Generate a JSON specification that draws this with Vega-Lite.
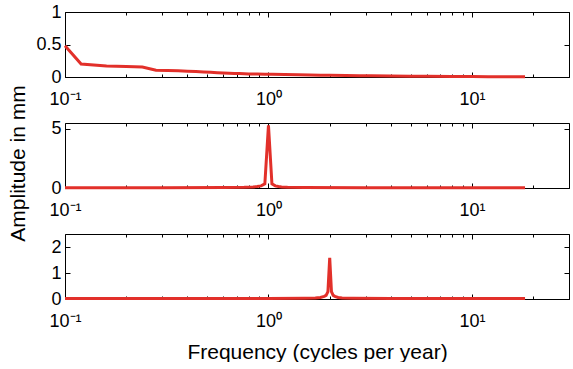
{
  "$schema": "https://vega.github.io/schema/vega-lite/v6.json",
  "padding": {"left": 6, "top": 3, "right": 0, "bottom": 0},
  "config": {
    "font": "Liberation Sans",
    "view": {"stroke": null},
    "axis": {
      "domainColor": "black", "domainWidth": 1, "tickColor": "black", "tickWidth": 1,
      "labelColor": "black", "labelFontSize": 18, "titleFontSize": 21, "titleFontWeight": "normal",
      "titleColor": "black", "grid": false, "labelFlush": false, "labelOverlap": false
    }
  },
  "datasets": {
    "p1": [
      {"f": 0.1, "a": 0.48}, {"f": 0.12, "a": 0.2}, {"f": 0.16, "a": 0.168}, {"f": 0.2, "a": 0.162},
      {"f": 0.24, "a": 0.153}, {"f": 0.28, "a": 0.105}, {"f": 0.32, "a": 0.1}, {"f": 0.36, "a": 0.097},
      {"f": 0.4, "a": 0.09}, {"f": 0.44, "a": 0.084}, {"f": 0.48, "a": 0.078}, {"f": 0.52, "a": 0.072},
      {"f": 0.56, "a": 0.066}, {"f": 0.6, "a": 0.062}, {"f": 0.64, "a": 0.058}, {"f": 0.68, "a": 0.055},
      {"f": 0.72, "a": 0.052}, {"f": 0.76, "a": 0.05}, {"f": 0.8, "a": 0.048}, {"f": 0.88, "a": 0.045},
      {"f": 0.96, "a": 0.043}, {"f": 1.04, "a": 0.041}, {"f": 1.2, "a": 0.037}, {"f": 1.4, "a": 0.033},
      {"f": 1.6, "a": 0.03}, {"f": 1.8, "a": 0.028}, {"f": 2.0, "a": 0.026}, {"f": 2.4, "a": 0.023},
      {"f": 2.8, "a": 0.02}, {"f": 3.2, "a": 0.018}, {"f": 4.0, "a": 0.015}, {"f": 5.0, "a": 0.012},
      {"f": 6.0, "a": 0.01}, {"f": 8.0, "a": 0.008}, {"f": 10.0, "a": 0.006}, {"f": 12.0, "a": 0.005},
      {"f": 14.0, "a": 0.004}, {"f": 16.0, "a": 0.004}, {"f": 18.24, "a": 0.003}
    ],
    "p2": [
      {"f": 0.1, "a": 0.03}, {"f": 0.3, "a": 0.03}, {"f": 0.6, "a": 0.04}, {"f": 0.76, "a": 0.06},
      {"f": 0.84, "a": 0.09}, {"f": 0.88, "a": 0.12}, {"f": 0.92, "a": 0.18}, {"f": 0.96, "a": 0.35},
      {"f": 1.0, "a": 5.3}, {"f": 1.04, "a": 0.35}, {"f": 1.08, "a": 0.18}, {"f": 1.12, "a": 0.12},
      {"f": 1.16, "a": 0.09}, {"f": 1.24, "a": 0.06}, {"f": 1.5, "a": 0.04}, {"f": 3.0, "a": 0.03},
      {"f": 10.0, "a": 0.02}, {"f": 18.24, "a": 0.02}
    ],
    "p3": [
      {"f": 0.1, "a": 0.02}, {"f": 0.5, "a": 0.02}, {"f": 1.0, "a": 0.02}, {"f": 1.5, "a": 0.03},
      {"f": 1.7, "a": 0.04}, {"f": 1.8, "a": 0.06}, {"f": 1.88, "a": 0.1}, {"f": 1.92, "a": 0.14},
      {"f": 1.96, "a": 0.28}, {"f": 2.0, "a": 1.58}, {"f": 2.04, "a": 0.28}, {"f": 2.08, "a": 0.14},
      {"f": 2.12, "a": 0.1}, {"f": 2.2, "a": 0.06}, {"f": 2.3, "a": 0.04}, {"f": 2.6, "a": 0.03},
      {"f": 4.0, "a": 0.02}, {"f": 10.0, "a": 0.02}, {"f": 18.24, "a": 0.02}
    ]
  },
  "spacing": 46,
  "bounds": "flush",
  "vconcat": [
    {
      "width": 504, "height": 65,
      "data": {"name": "p1"},
      "layer": [
        {
          "mark": {"type": "line", "color": "#e2302a", "strokeWidth": 3},
          "encoding": {
            "x": {"field": "f", "type": "quantitative",
              "scale": {"type": "log", "domain": [0.1, 30], "nice": false},
              "axis": {"orient": "bottom", "title": null,
                "values": [0.1,0.2,0.3,0.4,0.5,0.6,0.7,0.8,0.9,1,2,3,4,5,6,7,8,9,10,20,30],
                "labelExpr": "datum.value === 0.1 ? '10⁻¹' : datum.value === 1 ? '10⁰' : datum.value === 10 ? '10¹' : ''",
                "tickSize": {"condition": {"test": "datum.value === 0.1 || datum.value === 1 || datum.value === 10", "value": -5}, "value": -3},
                "labelPadding": 18}},
            "y": {"field": "a", "type": "quantitative",
              "scale": {"domain": [0, 1], "nice": false},
              "axis": {"orient": "left", "title": null, "values": [0, 0.5, 1], "format": "~g", "tickSize": -5, "labelPadding": 9}}
          }
        },
        {
          "mark": {"type": "line", "strokeOpacity": 0},
          "encoding": {
            "x": {"field": "f", "type": "quantitative",
              "scale": {"type": "log", "domain": [0.1, 30], "nice": false},
              "axis": {"orient": "top", "title": null, "labels": false,
                "values": [0.1,0.2,0.3,0.4,0.5,0.6,0.7,0.8,0.9,1,2,3,4,5,6,7,8,9,10,20,30],
                "tickSize": {"condition": {"test": "datum.value === 0.1 || datum.value === 1 || datum.value === 10", "value": -5}, "value": -3}}},
            "y": {"field": "a", "type": "quantitative",
              "scale": {"domain": [0, 1], "nice": false},
              "axis": {"orient": "right", "title": null, "labels": false, "values": [0, 0.5, 1], "tickSize": -5}}
          }
        }
      ],
      "resolve": {"axis": {"x": "independent", "y": "independent"}}
    },
    {
      "width": 504, "height": 65,
      "data": {"name": "p2"},
      "layer": [
        {
          "mark": {"type": "line", "color": "#e2302a", "strokeWidth": 3},
          "encoding": {
            "x": {"field": "f", "type": "quantitative",
              "scale": {"type": "log", "domain": [0.1, 30], "nice": false},
              "axis": {"orient": "bottom", "title": null,
                "values": [0.1,0.2,0.3,0.4,0.5,0.6,0.7,0.8,0.9,1,2,3,4,5,6,7,8,9,10,20,30],
                "labelExpr": "datum.value === 0.1 ? '10⁻¹' : datum.value === 1 ? '10⁰' : datum.value === 10 ? '10¹' : ''",
                "tickSize": {"condition": {"test": "datum.value === 0.1 || datum.value === 1 || datum.value === 10", "value": -5}, "value": -3},
                "labelPadding": 18}},
            "y": {"field": "a", "type": "quantitative",
              "scale": {"domain": [0, 5.5], "nice": false},
              "axis": {"orient": "left", "title": "Amplitude in mm", "values": [0, 5], "tickSize": -5, "labelPadding": 9,
                "titleAngle": 270, "titleX": -41, "titleY": 40, "titleAlign": "center", "titleBaseline": "alphabetic"}}
          }
        },
        {
          "mark": {"type": "line", "strokeOpacity": 0},
          "encoding": {
            "x": {"field": "f", "type": "quantitative",
              "scale": {"type": "log", "domain": [0.1, 30], "nice": false},
              "axis": {"orient": "top", "title": null, "labels": false,
                "values": [0.1,0.2,0.3,0.4,0.5,0.6,0.7,0.8,0.9,1,2,3,4,5,6,7,8,9,10,20,30],
                "tickSize": {"condition": {"test": "datum.value === 0.1 || datum.value === 1 || datum.value === 10", "value": -5}, "value": -3}}},
            "y": {"field": "a", "type": "quantitative",
              "scale": {"domain": [0, 5.5], "nice": false},
              "axis": {"orient": "right", "title": null, "labels": false, "values": [0, 5], "tickSize": -5}}
          }
        }
      ],
      "resolve": {"axis": {"x": "independent", "y": "independent"}}
    },
    {
      "width": 504, "height": 65,
      "data": {"name": "p3"},
      "layer": [
        {
          "mark": {"type": "line", "color": "#e2302a", "strokeWidth": 3},
          "encoding": {
            "x": {"field": "f", "type": "quantitative",
              "scale": {"type": "log", "domain": [0.1, 30], "nice": false},
              "axis": {"orient": "bottom", "title": "Frequency (cycles per year)", "titlePadding": 9,
                "values": [0.1,0.2,0.3,0.4,0.5,0.6,0.7,0.8,0.9,1,2,3,4,5,6,7,8,9,10,20,30],
                "labelExpr": "datum.value === 0.1 ? '10⁻¹' : datum.value === 1 ? '10⁰' : datum.value === 10 ? '10¹' : ''",
                "tickSize": {"condition": {"test": "datum.value === 0.1 || datum.value === 1 || datum.value === 10", "value": -5}, "value": -3},
                "labelPadding": 18}},
            "y": {"field": "a", "type": "quantitative",
              "scale": {"domain": [0, 2.5], "nice": false},
              "axis": {"orient": "left", "title": null, "values": [0, 1, 2], "tickSize": -5, "labelPadding": 9}}
          }
        },
        {
          "mark": {"type": "line", "strokeOpacity": 0},
          "encoding": {
            "x": {"field": "f", "type": "quantitative",
              "scale": {"type": "log", "domain": [0.1, 30], "nice": false},
              "axis": {"orient": "top", "title": null, "labels": false,
                "values": [0.1,0.2,0.3,0.4,0.5,0.6,0.7,0.8,0.9,1,2,3,4,5,6,7,8,9,10,20,30],
                "tickSize": {"condition": {"test": "datum.value === 0.1 || datum.value === 1 || datum.value === 10", "value": -5}, "value": -3}}},
            "y": {"field": "a", "type": "quantitative",
              "scale": {"domain": [0, 2.5], "nice": false},
              "axis": {"orient": "right", "title": null, "labels": false, "values": [0, 1, 2], "tickSize": -5}}
          }
        }
      ],
      "resolve": {"axis": {"x": "independent", "y": "independent"}}
    }
  ]
}
